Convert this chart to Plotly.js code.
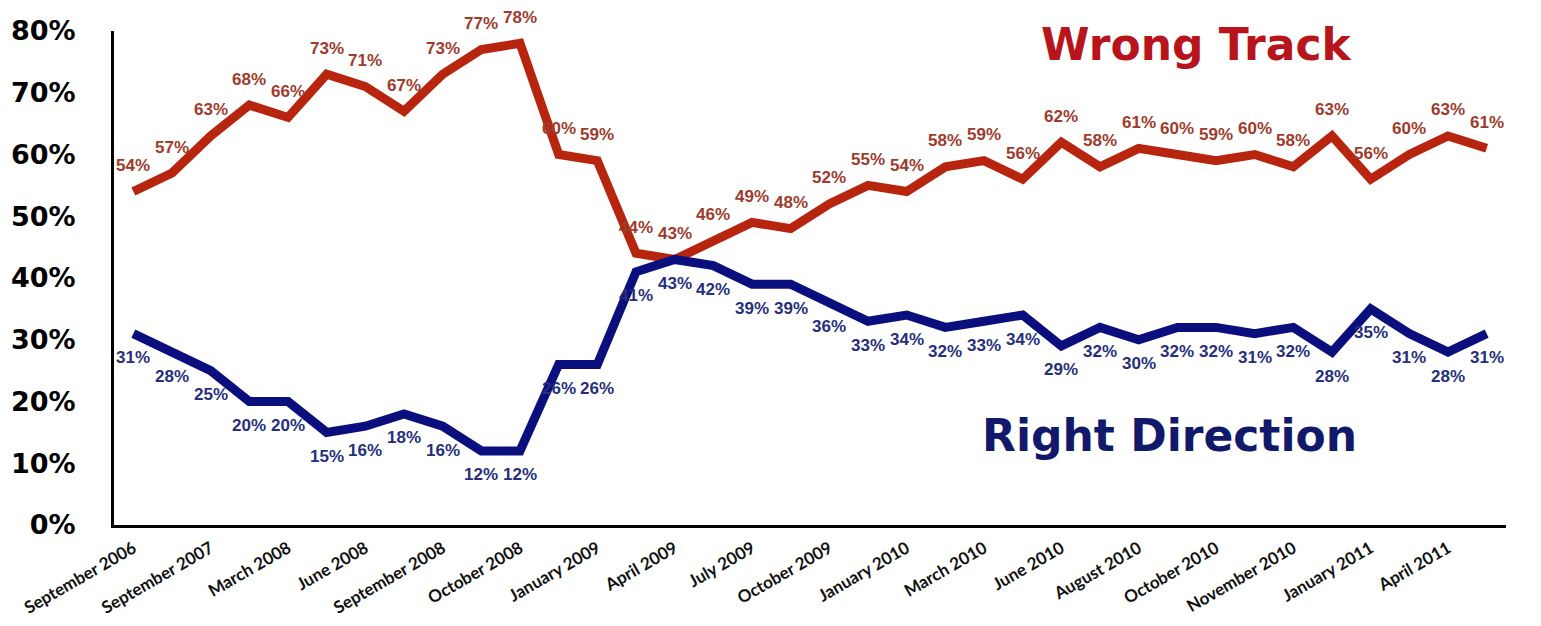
<!DOCTYPE html>
<html>
<head>
<meta charset="utf-8">
<script src="https://cdn.plot.ly/plotly-3.0.1.min.js"></script>
<style>html,body{margin:0;padding:0;background:#fff}#chart{width:1541px;height:626px}</style>
</head>
<body>
<div id="chart"></div>
<script>
const categories = ["September 2006","p1","September 2007","p3","March 2008","p5","June 2008","p7","September 2008","p9","October 2008","p11","January 2009","p13","April 2009","p15","July 2009","p17","October 2009","p19","January 2010","p21","March 2010","p23","June 2010","p25","August 2010","p27","October 2010","p29","November 2010","p31","January 2011","p33","April 2011","p35"];
const tickLabels = ["September 2006","September 2007","March 2008","June 2008","September 2008","October 2008","January 2009","April 2009","July 2009","October 2009","January 2010","March 2010","June 2010","August 2010","October 2010","November 2010","January 2011","April 2011"];
const wrongTrack = [54,57,63,68,66,73,71,67,73,77,78,60,59,44,43,46,49,48,52,55,54,58,59,56,62,58,61,60,59,60,58,63,56,60,63,61];
const rightDirection = [31,28,25,20,20,15,16,18,16,12,12,26,26,41,43,42,39,39,36,33,34,32,33,34,29,32,30,32,32,31,32,28,35,31,28,31];

const xIdx = categories.map((c,i)=>i);
const tickVals = xIdx.filter(i => i % 2 === 0);

const traces = [
  {
    x: xIdx, y: wrongTrack, type: 'scatter', mode: 'lines',
    line: {color: '#b8250f', width: 9},
    hoverinfo: 'skip', showlegend: false
  },
  {
    x: xIdx, y: rightDirection, type: 'scatter', mode: 'lines',
    line: {color: '#0b0f7e', width: 9},
    hoverinfo: 'skip', showlegend: false
  }
];

const labelFont = {family: 'Liberation Sans, Arial, sans-serif', size: 17, weight: 'bold'};
const annotations = [];
wrongTrack.forEach((v,i) => annotations.push({
  x: i, y: v, xref: 'x', yref: 'y', text: v + '%', showarrow: false,
  yshift: 26, xanchor: 'center', yanchor: 'middle',
  font: Object.assign({}, labelFont, {color: '#9e3b2d'})
}));
rightDirection.forEach((v,i) => annotations.push({
  x: i, y: v, xref: 'x', yref: 'y', text: v + '%', showarrow: false,
  yshift: -24, xanchor: 'center', yanchor: 'middle',
  font: Object.assign({}, labelFont, {color: '#262f7c'})
}));
annotations.push(
  {text: 'Wrong Track', xref: 'paper', yref: 'paper', x: 0.778, y: 0.972, xanchor: 'center', yanchor: 'middle',
   showarrow: false, font: {family: 'DejaVu Sans, sans-serif', size: 44, color: '#b8141c', weight: 'bold'}},
  {text: 'Right Direction', xref: 'paper', yref: 'paper', x: 0.758, y: 0.182, xanchor: 'center', yanchor: 'middle',
   showarrow: false, font: {family: 'DejaVu Sans, sans-serif', size: 44, color: '#12196b', weight: 'bold'}}
);

const layout = {
  width: 1541, height: 626,
  margin: {l: 114, r: 35, t: 31, b: 101},
  paper_bgcolor: '#fff', plot_bgcolor: '#fff',
  xaxis: {
    range: [-0.5, 35.5], showgrid: false, zeroline: false,
    showline: true, linecolor: '#000', linewidth: 3,
    tickmode: 'array', tickvals: tickVals, ticktext: tickLabels,
    tickangle: -30, ticks: '', ticklabelstandoff: 4,
    tickfont: {family: 'Lato, sans-serif', size: 17, color: '#111', weight: 'bold'}
  },
  yaxis: {
    range: [0, 80], showgrid: false, zeroline: false,
    showline: true, linecolor: '#000', linewidth: 3,
    tickmode: 'array', tickvals: [0,10,20,30,40,50,60,70,80],
    ticktext: ['0%','10%','20%','30%','40%','50%','60%','70%','80%'],
    ticks: '', ticklabelstandoff: 30,
    tickfont: {family: 'DejaVu Sans, sans-serif', size: 27, color: '#000', weight: 'bold'}
  },
  annotations: annotations
};

Plotly.newPlot('chart', traces, layout, {displayModeBar: false, staticPlot: true});
</script>
</body>
</html>
